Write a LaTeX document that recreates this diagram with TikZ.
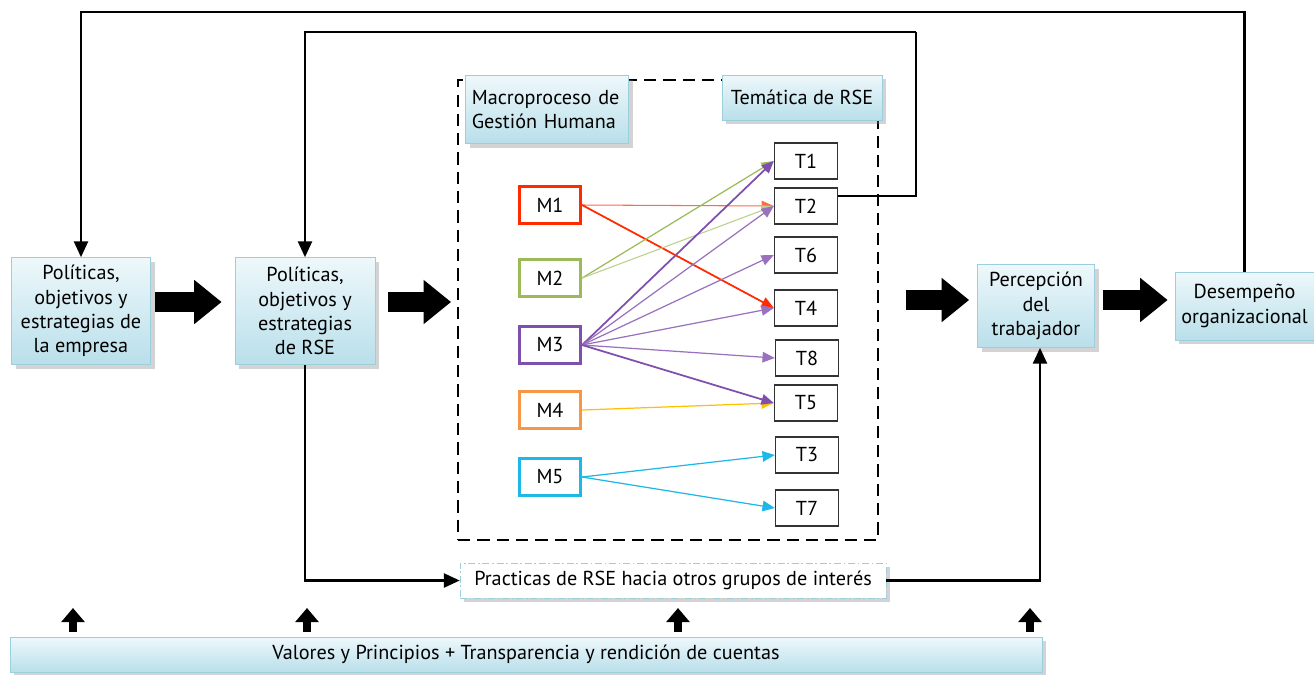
\documentclass[tikz,border=0pt]{standalone}
\usepackage{fontspec}
\setmainfont{PT Sans}
\usetikzlibrary{arrows.meta, positioning, shadows, calc}
\definecolor{boxtop}{HTML}{EEF8FB}
\definecolor{boxbot}{HTML}{B9DFEA}
\definecolor{boxline}{HTML}{9CCFDD}
\definecolor{mred}{HTML}{FF2A00}
\definecolor{mgreen}{HTML}{9BBB59}
\definecolor{mpurple}{HTML}{7F4FAE}
\definecolor{morange}{HTML}{F79646}
\definecolor{mcyan}{HTML}{1CB8E8}
\definecolor{myellow}{HTML}{FFC000}
\tikzset{
  mainbox/.style={draw=boxline, top color=boxtop, bottom color=boxbot,
                  drop shadow={opacity=0.35, shadow xshift=2.5pt, shadow yshift=-2.5pt},
                  align=center, inner sep=2pt, font=\fontsize{11.5}{13.8}\selectfont},
  headbox/.style={mainbox, align=left},
  gestbox/.style={draw, line width=1.1pt, dash pattern=on 7pt off 4pt,
                  minimum width=8.4cm, minimum height=9.2cm, inner sep=0pt},
  practbox/.style={draw=boxline, dash pattern=on 4pt off 1.5pt on 1pt off 1.5pt, fill=white,
                  drop shadow={opacity=0.35, shadow xshift=2.5pt, shadow yshift=-2.5pt},
                  minimum width=8.52cm, minimum height=0.7cm, font=\fontsize{11.5}{13.8}\selectfont},
  mbox/.style={draw, line width=1.8pt, fill=white, minimum width=1.22cm,
               minimum height=0.74cm, font=\fontsize{11.5}{13}\selectfont},
  tbox/.style={draw=black!80, line width=0.8pt, fill=white, minimum width=1.26cm,
               minimum height=0.72cm, font=\fontsize{11.5}{13}\selectfont},
  link/.style={line width=0.7pt, -{Triangle[length=7pt, width=6pt]}},
  fb/.style={line width=1.2pt, -{Triangle[length=9pt, width=8pt]}},
  bigarrow/.style={line width=0.4cm, -{Triangle[length=0.55cm, width=0.85cm]}},
  smallup/.style={line width=4.5pt, -{Triangle[length=8pt, width=13pt]}},
}
\begin{document}
\begin{tikzpicture}[x=0.02cm, y=-0.02cm]
    \useasboundingbox (0,0) rectangle (1314,674);
    %% dashed frame of the human management macroprocess
    \node[gestbox] (gestion) at (668,310) {};
    \node[headbox, minimum width=3.26cm, minimum height=1.36cm, anchor=north west,
          text width=3.0cm] (macro) at (465,75) {Macroproceso de\\Gestión Humana};
    \node[mainbox, minimum width=3.2cm, minimum height=0.9cm] (tematica) at (802,97.5) {Temática de RSE};
    %% main boxes
    \node[mainbox, minimum width=2.78cm, minimum height=2.14cm] (polemp) at (81,311)
      {Políticas,\\objetivos y\\estrategias de\\la empresa};
    \node[mainbox, minimum width=2.8cm, minimum height=2.14cm] (polrse) at (305,311)
      {Políticas,\\objetivos y\\estrategias\\de RSE};
    \node[mainbox, minimum width=2.34cm, minimum height=1.66cm] (percep) at (1036,306)
      {Percepción\\del\\trabajador};
    \node[mainbox, minimum width=2.78cm, minimum height=1.36cm] (desemp) at (1244.5,306)
      {Desempeño\\organizacional};
    \node[practbox] (practicas) at (673,580.5) {Practicas de RSE hacia otros grupos de interés};
    \node[mainbox, minimum width=20.64cm, minimum height=0.7cm] (valores) at (526,654.5)
      {Valores y Principios + Transparencia y rendición de cuentas};
    %% processes M
    \node[mbox, draw=mred]    (m1) at (550,205) {M1};
    \node[mbox, draw=mgreen]  (m2) at (550,278) {M2};
    \node[mbox, draw=mpurple] (m3) at (550,345) {M3};
    \node[mbox, draw=morange] (m4) at (550,410) {M4};
    \node[mbox, draw=mcyan]   (m5) at (550,477) {M5};
    %% topics T
    \node[tbox] (t1) at (806,161) {T1};
    \node[tbox] (t2) at (806,206) {T2};
    \node[tbox] (t6) at (806,255) {T6};
    \node[tbox] (t4) at (806,308) {T4};
    \node[tbox] (t8) at (807,358) {T8};
    \node[tbox] (t5) at (806,403) {T5};
    \node[tbox] (t3) at (807,455) {T3};
    \node[tbox] (t7) at (807,508) {T7};
    %% links M -> T
    \draw[link, mred!70, line width=0.6pt] (m1.east) -- (t2.west);
    \draw[link, mred, line width=1pt] (m1.east) -- (t4.west);
    \draw[link, mgreen] (m2.east) -- (t1.west);
    \draw[link, mgreen!70, line width=0.6pt] (m2.east) -- (t2.west);
    \draw[link, mpurple, line width=1pt] (m3.east) -- (t1.west);
    \draw[link, mpurple!80] (m3.east) -- (t2.west);
    \draw[link, mpurple!80] (m3.east) -- (t6.west);
    \draw[link, mpurple!80] (m3.east) -- (t4.west);
    \draw[link, mpurple!80] (m3.east) -- (t8.west);
    \draw[link, myellow] (m4.east) -- (t5.west);
    \draw[link, mpurple, line width=1pt] (m3.east) -- (t5.west);
    \draw[link, mcyan] (m5.east) -- (t3.west);
    \draw[link, mcyan] (m5.east) -- (t7.west);
    %% block arrows
    \draw[bigarrow, shorten <=0.08cm, shorten >=0.26cm]
      ($(polemp.east)+(0,-9)$) -- ($(polrse.west)+(0,-9)$);
    \draw[bigarrow, shorten <=0.26cm, shorten >=0.12cm]
      ($(polrse.east)+(0,-9)$) -- ($(polrse.east -| gestion.west)+(0,-9)$);
    \draw[bigarrow, shorten <=0.54cm, shorten >=0.16cm]
      ($(gestion.east |- percep)+(0,-6)$) -- ($(percep.west)+(0,-6)$);
    \draw[bigarrow, shorten <=0.16cm, shorten >=0.14cm]
      ($(percep.east)+(0,-6)$) -- ($(desemp.west)+(0,-6)$);
    %% feedback lines
    \coordinate (loopa) at (600,12);
    \coordinate (loopb) at (916,32);
    \draw[fb] (desemp.north) |- (loopa) -| (polemp.north);
    \draw[fb, -] ($(t2.east)+(0,-10)$) -| (loopb);
    \draw[fb] (loopb) -| (polrse.north);
    \draw[fb] (polrse.south) |- (practicas.west);
    \draw[fb] (practicas.east) -| ($(percep.south)+(4,0)$);
    %% small arrows from the base
    \coordinate (u1) at (73,608);
    \coordinate (u2) at (307,608);
    \coordinate (u3) at (678,608);
    \coordinate (u4) at (1030,608);
    \foreach \u in {u1,u2,u3,u4}
      \draw[smallup] ($(\u |- valores.north)+(0,-5)$) -- (\u);
\end{tikzpicture}
\end{document}
